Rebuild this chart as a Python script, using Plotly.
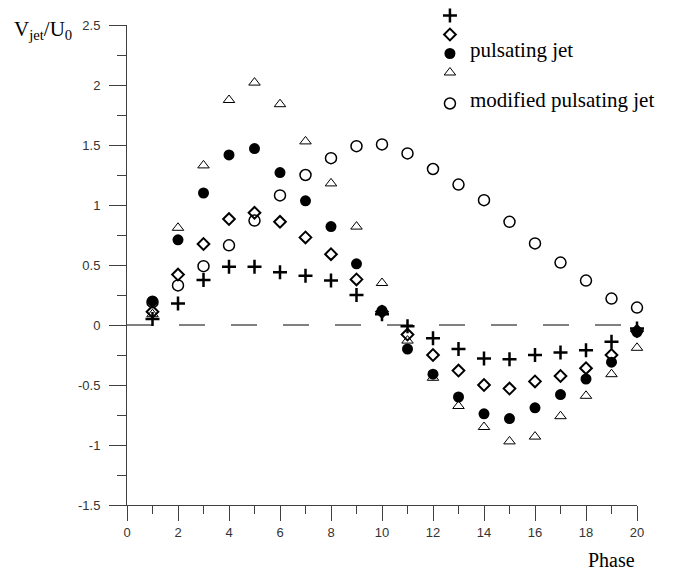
import plotly.graph_objects as go

phase = list(range(1, 21))
plus_vals = [0.05, 0.18, 0.375, 0.486, 0.486, 0.44, 0.41, 0.37, 0.25, 0.09,
             -0.01, -0.11, -0.20, -0.28, -0.285, -0.25, -0.23, -0.21, -0.14, -0.03]
diamond_vals = [0.11, 0.42, 0.675, 0.883, 0.935, 0.86, 0.73, 0.59, 0.38, 0.11,
                -0.08, -0.25, -0.38, -0.50, -0.53, -0.47, -0.425, -0.36, -0.25, -0.05]
pulsating_vals = [0.20, 0.71, 1.10, 1.417, 1.47, 1.27, 1.035, 0.82, 0.51, 0.12,
                  -0.20, -0.41, -0.60, -0.74, -0.78, -0.69, -0.58, -0.45, -0.31, -0.06]
triangle_vals = [0.09, 0.81, 1.33, 1.875, 2.02, 1.84, 1.53, 1.18, 0.82, 0.35,
                 -0.13, -0.44, -0.675, -0.85, -0.97, -0.93, -0.76, -0.59, -0.41, -0.19]
modified_vals = [0.19, 0.33, 0.49, 0.664, 0.87, 1.08, 1.25, 1.39, 1.49, 1.505,
                 1.43, 1.30, 1.17, 1.04, 0.86, 0.68, 0.52, 0.37, 0.22, 0.145]

x_ticks = list(range(0, 21, 2))
y_ticks = [-1.5, -1, -0.5, 0, 0.5, 1, 1.5, 2, 2.5]
y_ticktext = ["-1.5", "-1", "-0.5", "0", "0.5", "1", "1.5", "2", "2.5"]
zero_x = [0, 20]
zero_y = [0, 0]

legend_txt = lambda s: '<span style="font-size:21px">%s</span>' % s if s else ""

fig = go.Figure()

fig.add_trace(go.Scatter(x=zero_x, y=zero_y, mode="lines", showlegend=False,
                         line=dict(color="black", width=1, dash="26px,26px"),
                         hoverinfo="skip"))

series = [
    ("", plus_vals, dict(symbol="cross-thin", size=10, color="black",
                         line=dict(color="black", width=2.5)), "a"),
    ("", diamond_vals, dict(symbol="diamond-open", size=9, color="black",
                            line=dict(color="black", width=2)), "a"),
    ("pulsating jet", pulsating_vals, dict(symbol="circle", size=11, color="black",
                                          line=dict(width=0)), "a"),
    ("", triangle_vals, dict(symbol="triangle-up-open", size=10, color="black",
                             line=dict(color="black", width=1)), "a"),
    ("modified pulsating jet", modified_vals, dict(symbol="circle-open", size=11, color="black",
                                                  line=dict(color="black", width=1.5)), "b"),
]
for name, vals, mk, grp in series:
    fig.add_trace(go.Scatter(x=phase, y=vals, mode="markers", name=legend_txt(name),
                             marker=mk, legendgroup=grp, cliponaxis=False))

axis_font = dict(family="Liberation Sans, Arial, sans-serif", size=13, color="#333")

fig.update_layout(
    width=674, height=570,
    margin=dict(l=127, r=37, t=25, b=65, autoexpand=False),
    paper_bgcolor="white", plot_bgcolor="white",
    showlegend=True,
    legend=dict(x=0.594, y=1.05, xanchor="left", yanchor="top",
                font=dict(family="Liberation Serif, Times New Roman, serif", size=10, color="black"),
                tracegroupgap=12, bgcolor="rgba(0,0,0,0)", traceorder="grouped"),
    xaxis=dict(range=[0, 20], tickvals=x_ticks, showgrid=False, zeroline=False,
               showline=True, linecolor="#404040", linewidth=1,
               ticks="outside", ticklen=15, tickcolor="#404040", tickwidth=1,
               tickfont=axis_font,
               minor=dict(dtick=1, ticks="outside", ticklen=8, tickcolor="#404040", showgrid=False)),
    yaxis=dict(range=[-1.5, 2.5], tickvals=y_ticks, ticktext=y_ticktext, showgrid=False,
               zeroline=False, showline=True, linecolor="#404040", linewidth=1,
               ticks="outside", ticklen=17, tickcolor="#404040", tickwidth=1,
               tickfont=axis_font, ticklabelstandoff=6,
               minor=dict(dtick=0.25, ticks="outside", ticklen=9, tickcolor="#404040", showgrid=False)),
    annotations=[
        dict(text="V<sub>jet</sub>/U<sub>0</sub>", xref="paper", yref="paper",
             x=-0.225, y=0.99, xanchor="left", yanchor="middle", showarrow=False,
             font=dict(family="Liberation Serif, Times New Roman, serif", size=21, color="black")),
        dict(text="Phase", xref="paper", yref="paper",
             x=1.0, y=-0.115, xanchor="right", yanchor="middle", showarrow=False,
             font=dict(family="Liberation Serif, Times New Roman, serif", size=20, color="black")),
    ],
)

fig.write_html("out.html")
